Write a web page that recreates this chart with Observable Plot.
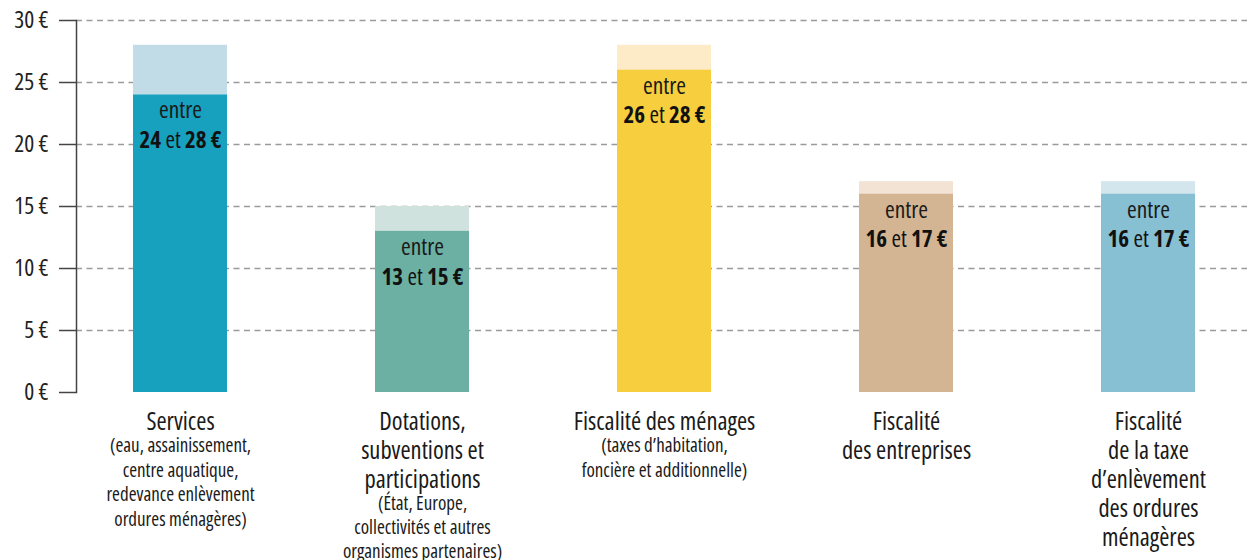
<!DOCTYPE html>
<html>
<head>
<meta charset="utf-8">
<script src="https://cdn.jsdelivr.net/npm/d3@7"></script>
<script src="https://cdn.jsdelivr.net/npm/@observablehq/plot@0.6"></script>
<style>
  html, body { margin: 0; padding: 0; background: #fff; }
  #chart svg, #chart svg text { font-family: "Open Sans", "Noto Sans", sans-serif; font-stretch: 75%; }
</style>
</head>
<body>
<div id="chart"></div>
<script>
const categories = ["Services", "Dotations", "Ménages", "Entreprises", "TEOM"];
const titles = [
  "Services",
  "Dotations,\nsubventions et\nparticipations",
  "Fiscalité des ménages",
  "Fiscalité\ndes entreprises",
  "Fiscalité\nde la taxe\nd’enlèvement\ndes ordures\nménagères"
];
const subtitles = [
  "(eau, assainissement,\ncentre aquatique,\nredevance enlèvement\nordures ménagères)",
  "(État, Europe,\ncollectivités et autres\norganismes partenaires)",
  "(taxes d’habitation,\nfoncière et additionnelle)",
  "",
  ""
];
const lowValues = [24, 13, 26, 16, 16];
const highValues = [28, 15, 28, 17, 17];
const solidColors = ["#17a1bf", "#6bb0a2", "#f6ce3e", "#d4b593", "#87bfd3"];
const lightColors = ["#c2dce7", "#d0e2de", "#fdeac6", "#f2e3d5", "#d3e6ee"];
const yTicks = [0, 5, 10, 15, 20, 25, 30];

const rows = categories.map((c, i) => ({
  cat: c, title: titles[i], sub: subtitles[i],
  lo: lowValues[i], hi: highValues[i],
  solid: solidColors[i], light: lightColors[i],
  nLines: titles[i].split("\n").length
}));

const fontFamily = '"Open Sans", "Noto Sans", sans-serif';

const chart = Plot.plot({
  width: 1247,
  height: 560,
  marginLeft: 76,
  marginRight: 0,
  marginTop: 20,
  marginBottom: 168,
  style: {fontFamily, background: "#fff"},
  x: {type: "band", domain: categories, range: [57, 1271], paddingInner: 0.61, paddingOuter: 0.305, axis: null},
  y: {domain: [0, 30], axis: null},
  marks: [
    Plot.gridY(yTicks.slice(1), {stroke: "#9a9a9a", strokeOpacity: 1, strokeWidth: 1.3, strokeDasharray: "6,4.5"}),
    Plot.barY(rows, {x: "cat", y1: "lo", y2: "hi", fill: "light"}),
    Plot.barY(rows, {x: "cat", y1: 0, y2: "lo", fill: "solid"}),
    Plot.ruleY([0], {x1: 59, stroke: "#444", strokeWidth: 1.5}),
    Plot.axisY(yTicks, {tickSize: 17, tickPadding: 11, fontSize: 23.5, tickFormat: d => `${d} €`, stroke: "#444", strokeWidth: 1.5, fill: "#222"}),
    Plot.frame({anchor: "left", stroke: "#444", strokeWidth: 1.5}),
    Plot.text(rows, {x: "cat", y: "lo", text: () => "entre", dy: 16, fontSize: 23.5, fill: "#1a1a1a"}),
    Plot.text(rows, {x: "cat", y: "lo", text: d => `${d.lo} et ${d.hi} €`, dy: 46, fontSize: 23, fill: "#111"}),
    Plot.text(rows, {x: "cat", y: 0, text: "title", lineAnchor: "top", dy: 16.5, fontSize: 24.5, lineHeight: 1.19, fill: "#1a1a1a"}),
    Plot.text(rows.filter(d => d.sub && d.nLines === 1), {x: "cat", y: 0, text: "sub", lineAnchor: "top", dy: 41.5, fontSize: 19, lineHeight: 1.31, fill: "#1a1a1a"}),
    Plot.text(rows.filter(d => d.sub && d.nLines === 3), {x: "cat", y: 0, text: "sub", lineAnchor: "top", dy: 101, fontSize: 19, lineHeight: 1.25, fill: "#1a1a1a"})
  ]
});

// Mixed bold/regular within the range labels
d3.select(chart).selectAll("text").each(function() {
  const t = this.textContent;
  if (!/^\d+ et \d+ €$/.test(t)) return;
  const parts = t.split(" et ");
  const sel = d3.select(this);
  sel.text(null);
  sel.append("tspan").attr("font-weight", "bold").style("font-weight", "700").text(parts[0]);
  sel.append("tspan").text(" et ");
  sel.append("tspan").attr("font-weight", "bold").style("font-weight", "700").text(parts[1]);
});

document.getElementById("chart").append(chart);
</script>
</body>
</html>
